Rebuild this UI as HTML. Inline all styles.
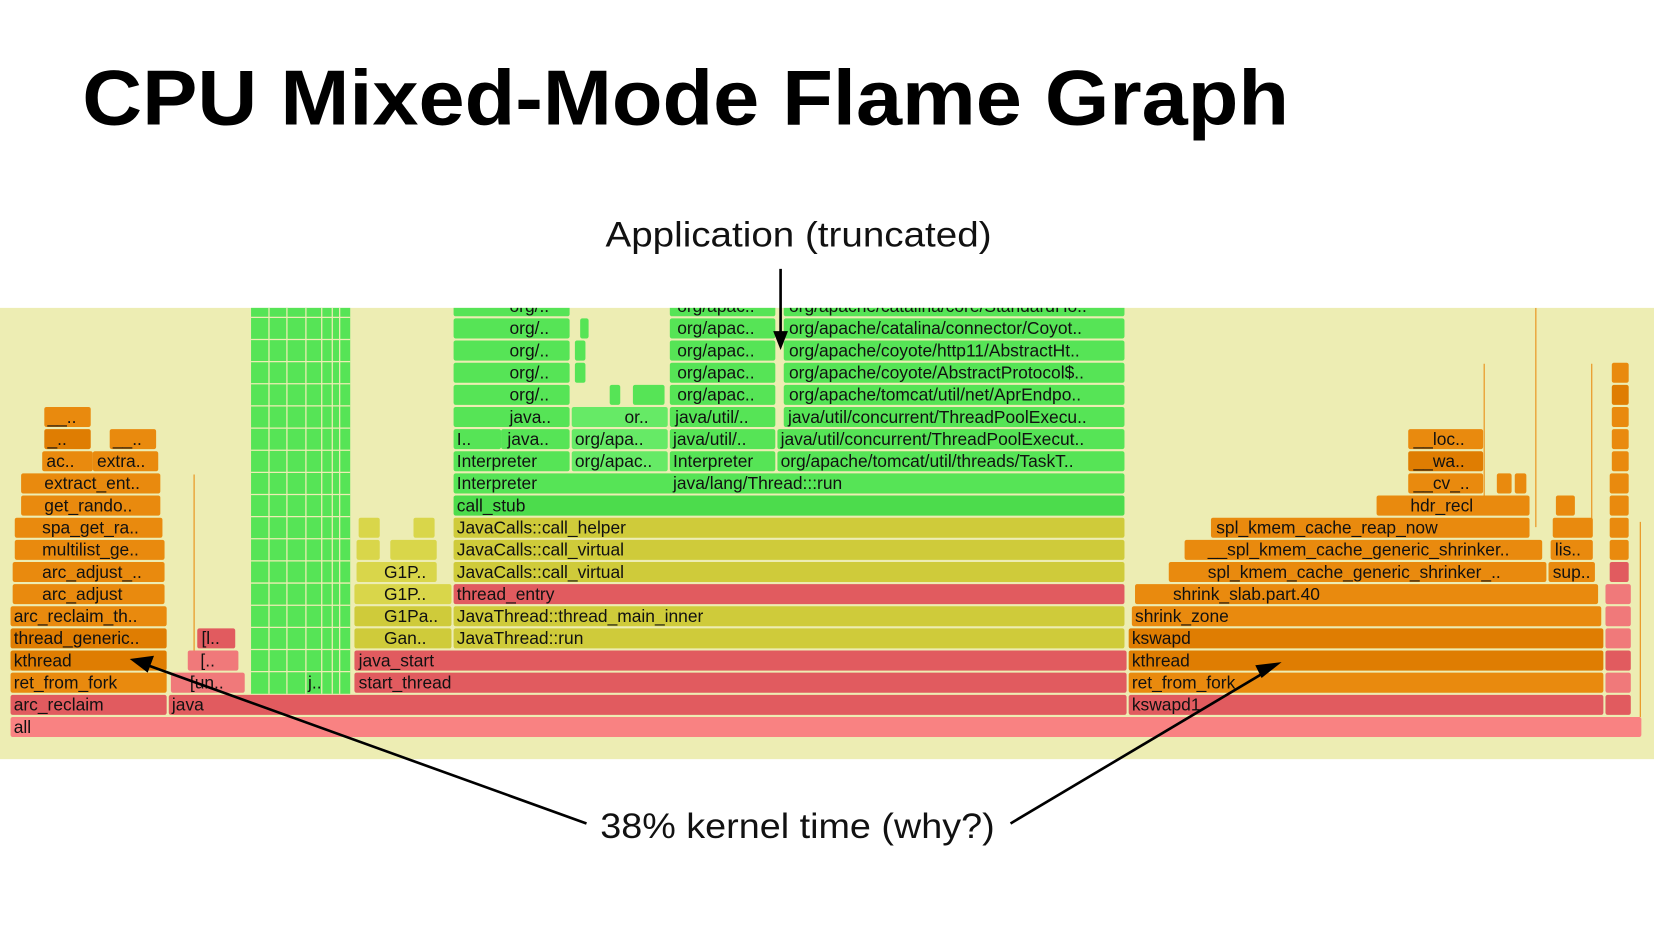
<!DOCTYPE html>
<html><head><meta charset="utf-8"><style>
html,body{margin:0;padding:0;background:#fff;}
svg{display:block}
.t{font-family:"Liberation Sans",sans-serif;font-size:16.5px;fill:#111}
.o{fill:#e98a0e}.od{fill:#df7d02}.r{fill:#e15b5f}.p{fill:#f0797a}.a{fill:#f98282}
.y{fill:#cfcb3a}.yl{fill:#d9d64a}.g{fill:#56e456}.gd{fill:#4cdc4c}.gl{fill:#66ea66}
</style></head><body>
<svg width="1654" height="931" viewBox="0 0 1568 883" preserveAspectRatio="none" xmlns="http://www.w3.org/2000/svg">
<rect width="1568" height="883" fill="#fff"/>
<text x="78" y="118" font-family="Liberation Sans, sans-serif" font-weight="bold" font-size="74" textLength="1144" lengthAdjust="spacingAndGlyphs" fill="#000">CPU Mixed-Mode Flame Graph</text>
<text x="574" y="234" font-family="Liberation Sans, sans-serif" font-size="33" textLength="366" lengthAdjust="spacingAndGlyphs" fill="#111">Application (truncated)</text>
<rect x="0" y="292" width="1568" height="428" fill="#ededb3"/>
<defs><clipPath id="c"><rect x="0" y="292" width="1568" height="428"/></clipPath></defs>
<g clip-path="url(#c)">
<g class="g">
<rect x="238" y="281" width="94" height="377"/>
</g>
<g stroke="#ededb3" stroke-width="1.2">
<line x1="255" y1="281" x2="255" y2="658"/><line x1="272" y1="281" x2="272" y2="658"/><line x1="290" y1="281" x2="290" y2="658"/><line x1="305" y1="281" x2="305" y2="658"/><line x1="315" y1="281" x2="315" y2="658"/><line x1="322" y1="281" x2="322" y2="658"/>
<line x1="238" y1="301" x2="332" y2="301"/><line x1="238" y1="322" x2="332" y2="322"/><line x1="238" y1="343" x2="332" y2="343"/><line x1="238" y1="364" x2="332" y2="364"/><line x1="238" y1="385" x2="332" y2="385"/><line x1="238" y1="406" x2="332" y2="406"/><line x1="238" y1="427" x2="332" y2="427"/><line x1="238" y1="448" x2="332" y2="448"/><line x1="238" y1="469" x2="332" y2="469"/><line x1="238" y1="490" x2="332" y2="490"/><line x1="238" y1="511" x2="332" y2="511"/><line x1="238" y1="532" x2="332" y2="532"/><line x1="238" y1="553" x2="332" y2="553"/><line x1="238" y1="574" x2="332" y2="574"/><line x1="238" y1="595" x2="332" y2="595"/><line x1="238" y1="616" x2="332" y2="616"/><line x1="238" y1="637" x2="332" y2="637"/>
</g>
<text class="t" x="292" y="653">j..</text>

<rect class="a" x="10" y="680" width="1546" height="19" rx="2"/><text class="t" x="13" y="695">all</text>
<rect class="r" x="10" y="659" width="148" height="19" rx="2"/><text class="t" x="13" y="674">arc_reclaim</text>
<rect class="r" x="160" y="659" width="908" height="19" rx="2"/><text class="t" x="163" y="674">java</text>
<rect class="r" x="1070" y="659" width="450" height="19" rx="2"/><text class="t" x="1073" y="674">kswapd1</text>
<rect class="r" x="1522" y="659" width="24" height="19" rx="2"/>
<rect class="o" x="10" y="638" width="148" height="19" rx="2"/><text class="t" x="13" y="653">ret_from_fork</text>
<rect class="p" x="162" y="638" width="70" height="19" rx="2"/><text class="t" x="180" y="653">[un..</text>
<rect class="r" x="336" y="638" width="732" height="19" rx="2"/><text class="t" x="340" y="653">start_thread</text>
<rect class="o" x="1070" y="638" width="450" height="19" rx="2"/><text class="t" x="1073" y="653">ret_from_fork</text>
<rect class="p" x="1522" y="638" width="24" height="19" rx="2"/>
<rect class="od" x="10" y="617" width="148" height="19" rx="2"/><text class="t" x="13" y="632">kthread</text>
<rect class="p" x="178" y="617" width="48" height="19" rx="2"/><text class="t" x="190" y="632">[..</text>
<rect class="r" x="336" y="617" width="732" height="19" rx="2"/><text class="t" x="340" y="632">java_start</text>
<rect class="od" x="1070" y="617" width="450" height="19" rx="2"/><text class="t" x="1073" y="632">kthread</text>
<rect class="r" x="1522" y="617" width="24" height="19" rx="2"/>
<rect class="od" x="10" y="596" width="148" height="19" rx="2"/><text class="t" x="13" y="611">thread_generic..</text>
<rect class="r" x="187" y="596" width="36" height="19" rx="2"/><text class="t" x="191" y="611">[l..</text>
<rect class="y" x="336" y="596" width="92" height="19" rx="2"/><text class="t" x="364" y="611">Gan..</text>
<rect class="y" x="430" y="596" width="636" height="19" rx="2"/><text class="t" x="433" y="611">JavaThread::run</text>
<rect class="od" x="1070" y="596" width="450" height="19" rx="2"/><text class="t" x="1073" y="611">kswapd</text>
<rect class="p" x="1522" y="596" width="24" height="19" rx="2"/>
<rect class="o" x="10" y="575" width="148" height="19" rx="2"/><text class="t" x="13" y="590">arc_reclaim_th..</text>
<rect class="y" x="336" y="575" width="92" height="19" rx="2"/><text class="t" x="364" y="590">G1Pa..</text>
<rect class="y" x="430" y="575" width="636" height="19" rx="2"/><text class="t" x="433" y="590">JavaThread::thread_main_inner</text>
<rect class="o" x="1073" y="575" width="445" height="19" rx="2"/><text class="t" x="1076" y="590">shrink_zone</text>
<rect class="p" x="1522" y="575" width="24" height="19" rx="2"/>
<rect class="o" x="12" y="554" width="144" height="19" rx="2"/><text class="t" x="40" y="569">arc_adjust</text>
<rect class="yl" x="336" y="554" width="92" height="19" rx="2"/><text class="t" x="364" y="569">G1P..</text>
<rect class="r" x="430" y="554" width="636" height="19" rx="2"/><text class="t" x="433" y="569">thread_entry</text>
<rect class="o" x="1076" y="554" width="439" height="19" rx="2"/><text class="t" x="1112" y="569">shrink_slab.part.40</text>
<rect class="p" x="1522" y="554" width="24" height="19" rx="2"/>
<rect class="o" x="12" y="533" width="144" height="19" rx="2"/><text class="t" x="40" y="548">arc_adjust_..</text>
<rect class="yl" x="338" y="533" width="76" height="19" rx="2"/><text class="t" x="364" y="548">G1P..</text>
<rect class="y" x="430" y="533" width="636" height="19" rx="2"/><text class="t" x="433" y="548">JavaCalls::call_virtual</text>
<rect class="o" x="1108" y="533" width="358" height="19" rx="2"/><text class="t" x="1145" y="548">spl_kmem_cache_generic_shrinker_..</text>
<rect class="o" x="1468" y="533" width="44" height="19" rx="2"/><text class="t" x="1472" y="548">sup..</text>
<rect class="r" x="1526" y="533" width="18" height="19" rx="2"/>
<rect class="o" x="14" y="512" width="142" height="19" rx="2"/><text class="t" x="40" y="527">multilist_ge..</text>
<rect class="yl" x="338" y="512" width="22" height="19" rx="2"/><rect class="yl" x="370" y="512" width="44" height="19" rx="2"/>
<rect class="y" x="430" y="512" width="636" height="19" rx="2"/><text class="t" x="433" y="527">JavaCalls::call_virtual</text>
<rect class="o" x="1123" y="512" width="339" height="19" rx="2"/><text class="t" x="1145" y="527">__spl_kmem_cache_generic_shrinker..</text>
<rect class="o" x="1470" y="512" width="40" height="19" rx="2"/><text class="t" x="1474" y="527">lis..</text>
<rect class="o" x="1526" y="512" width="18" height="19" rx="2"/>
<rect class="o" x="14" y="491" width="140" height="19" rx="2"/><text class="t" x="40" y="506">spa_get_ra..</text>
<rect class="yl" x="340" y="491" width="20" height="19" rx="2"/><rect class="yl" x="392" y="491" width="20" height="19" rx="2"/>
<rect class="y" x="430" y="491" width="636" height="19" rx="2"/><text class="t" x="433" y="506">JavaCalls::call_helper</text>
<rect class="o" x="1148" y="491" width="302" height="19" rx="2"/><text class="t" x="1153" y="506">spl_kmem_cache_reap_now</text>
<rect class="o" x="1472" y="491" width="38" height="19" rx="2"/>
<rect class="o" x="1526" y="491" width="18" height="19" rx="2"/>
<rect class="o" x="20" y="470" width="132" height="19" rx="2"/><text class="t" x="42" y="485">get_rando..</text>
<rect class="gd" x="430" y="470" width="636" height="19" rx="2"/><text class="t" x="433" y="485">call_stub</text>
<rect class="o" x="1305" y="470" width="145" height="19" rx="2"/><text class="t" x="1337" y="485">hdr_recl</text>
<rect class="o" x="1475" y="470" width="18" height="19" rx="2"/>
<rect class="o" x="1526" y="470" width="18" height="19" rx="2"/>
<rect class="o" x="20" y="449" width="132" height="19" rx="2"/><text class="t" x="42" y="464">extract_ent..</text>
<rect class="g" x="430" y="449" width="636" height="19" rx="2"/><text class="t" x="433" y="464">Interpreter</text><text class="t" x="638" y="464">java/lang/Thread:::run</text>
<rect class="o" x="1335" y="449" width="71" height="19" rx="2"/><text class="t" x="1340" y="464">__cv_..</text>
<rect class="o" x="1419" y="449" width="14" height="19" rx="2"/><rect class="o" x="1436" y="449" width="11" height="19" rx="2"/>
<rect class="o" x="1526" y="449" width="18" height="19" rx="2"/>
<rect class="o" x="40" y="428" width="48" height="19" rx="2"/><text class="t" x="44" y="443">ac..</text>
<rect class="o" x="88" y="428" width="62" height="19" rx="2"/><text class="t" x="92" y="443">extra..</text>
<rect class="g" x="430" y="428" width="110" height="19" rx="2"/><text class="t" x="433" y="443">Interpreter</text>
<rect class="gl" x="542" y="428" width="91" height="19" rx="2"/><text class="t" x="545" y="443">org/apac..</text>
<rect class="g" x="635" y="428" width="100" height="19" rx="2"/><text class="t" x="638" y="443">Interpreter</text>
<rect class="g" x="737" y="428" width="329" height="19" rx="2"/><text class="t" x="740" y="443">org/apache/tomcat/util/threads/TaskT..</text>
<rect class="od" x="1335" y="428" width="71" height="19" rx="2"/><text class="t" x="1340" y="443">__wa..</text>
<rect class="o" x="1528" y="428" width="16" height="19" rx="2"/>
<rect class="od" x="42" y="407" width="44" height="19" rx="2"/><text class="t" x="45" y="422">_..</text>
<rect class="o" x="104" y="407" width="44" height="19" rx="2"/><text class="t" x="107" y="422">__..</text>
<rect class="g" x="430" y="407" width="45" height="19" rx="2"/><text class="t" x="433" y="422">I..</text>
<rect class="g" x="475" y="407" width="65" height="19" rx="2"/><text class="t" x="481" y="422">java..</text>
<rect class="gl" x="542" y="407" width="91" height="19" rx="2"/><text class="t" x="545" y="422">org/apa..</text>
<rect class="g" x="635" y="407" width="100" height="19" rx="2"/><text class="t" x="638" y="422">java/util/..</text>
<rect class="g" x="737" y="407" width="329" height="19" rx="2"/><text class="t" x="740" y="422">java/util/concurrent/ThreadPoolExecut..</text>
<rect class="o" x="1335" y="407" width="71" height="19" rx="2"/><text class="t" x="1340" y="422">__loc..</text>
<rect class="o" x="1528" y="407" width="16" height="19" rx="2"/>
<rect class="o" x="42" y="386" width="44" height="19" rx="2"/><text class="t" x="45" y="401">__..</text>
<rect class="g" x="430" y="386" width="110" height="19" rx="2"/><text class="t" x="483" y="401">java..</text>
<rect class="gl" x="542" y="386" width="91" height="19" rx="2"/><text class="t" x="592" y="401">or..</text>
<rect class="g" x="635" y="386" width="100" height="19" rx="2"/><text class="t" x="640" y="401">java/util/..</text>
<rect class="g" x="743" y="386" width="323" height="19" rx="2"/><text class="t" x="747" y="401">java/util/concurrent/ThreadPoolExecu..</text>
<rect class="o" x="1528" y="386" width="16" height="19" rx="2"/>
<rect class="g" x="430" y="365" width="110" height="19" rx="2"/><text class="t" x="483" y="380">org/..</text>
<rect class="g" x="578" y="365" width="10" height="19" rx="2"/><rect class="g" x="600" y="365" width="30" height="19" rx="2"/>
<rect class="g" x="635" y="365" width="100" height="19" rx="2"/><text class="t" x="642" y="380">org/apac..</text>
<rect class="g" x="743" y="365" width="323" height="19" rx="2"/><text class="t" x="748" y="380">org/apache/tomcat/util/net/AprEndpo..</text>
<rect class="od" x="1528" y="365" width="16" height="19" rx="2"/>
<rect class="g" x="430" y="344" width="110" height="19" rx="2"/><text class="t" x="483" y="359">org/..</text>
<rect class="g" x="545" y="344" width="10" height="19" rx="2"/>
<rect class="g" x="635" y="344" width="100" height="19" rx="2"/><text class="t" x="642" y="359">org/apac..</text>
<rect class="g" x="743" y="344" width="323" height="19" rx="2"/><text class="t" x="748" y="359">org/apache/coyote/AbstractProtocol$..</text>
<rect class="o" x="1528" y="344" width="16" height="19" rx="2"/>
<rect class="g" x="430" y="323" width="110" height="19" rx="2"/><text class="t" x="483" y="338">org/..</text>
<rect class="g" x="545" y="323" width="10" height="19" rx="2"/>
<rect class="g" x="635" y="323" width="100" height="19" rx="2"/><text class="t" x="642" y="338">org/apac..</text>
<rect class="g" x="743" y="323" width="323" height="19" rx="2"/><text class="t" x="748" y="338">org/apache/coyote/http11/AbstractHt..</text>
<rect class="g" x="430" y="302" width="110" height="19" rx="2"/><text class="t" x="483" y="317">org/..</text>
<rect class="g" x="550" y="302" width="8" height="19" rx="2"/>
<rect class="g" x="635" y="302" width="100" height="19" rx="2"/><text class="t" x="642" y="317">org/apac..</text>
<rect class="g" x="743" y="302" width="323" height="19" rx="2"/><text class="t" x="748" y="317">org/apache/catalina/connector/Coyot..</text>
<rect class="g" x="430" y="281" width="110" height="19" rx="2"/><text class="t" x="483" y="296">org/..</text>
<rect class="g" x="635" y="281" width="100" height="19" rx="2"/><text class="t" x="642" y="296">org/apac..</text>
<rect class="g" x="743" y="281" width="323" height="19" rx="2"/><text class="t" x="748" y="296">org/apache/catalina/core/StandardHo..</text>
<g stroke="#e98a0e" stroke-width="1">
<line x1="184" y1="450" x2="184" y2="617"/><line x1="1407" y1="345" x2="1407" y2="470"/><line x1="1456" y1="292" x2="1456" y2="500"/><line x1="1509" y1="345" x2="1509" y2="500"/><line x1="1555" y1="495" x2="1555" y2="680"/>
</g>
</g>
<g stroke="#000" stroke-width="2.5" fill="none">
<line x1="740" y1="255" x2="740" y2="318"/>
<line x1="556" y1="781" x2="140" y2="631"/>
<line x1="958" y1="781" x2="1200" y2="637"/>
</g>
<polygon points="740,332 733,314 747,314" fill="#000"/>
<polygon points="123,625 146,622 140,638" fill="#000"/>
<polygon points="1215,628 1196,643 1190,631" fill="#000"/>
<text x="569" y="795" font-family="Liberation Sans, sans-serif" font-size="33" textLength="374" lengthAdjust="spacingAndGlyphs" fill="#111">38% kernel time (why?)</text>
</svg>
</body></html>
